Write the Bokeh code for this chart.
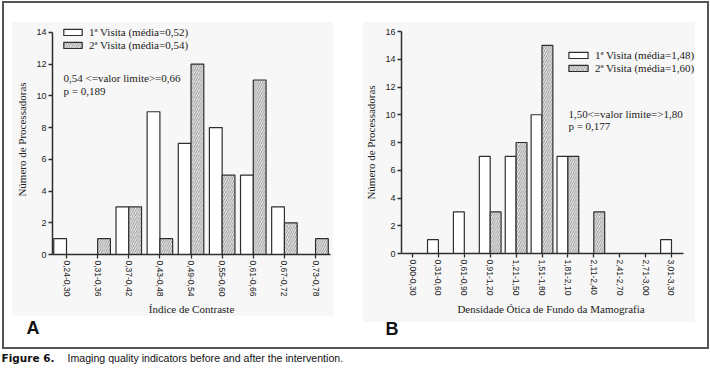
from bokeh.plotting import figure
from bokeh.models import (FixedTicker, SingleIntervalTicker, Legend, LegendItem, Label)
from bokeh.layouts import row, column
from bokeh.embed import file_html
from bokeh.resources import INLINE

# ---------------- data ----------------
cats_a = ["0,24-0,30", "0,31-0,36", "0,37-0,42", "0,43-0,48", "0,49-0,54",
          "0,55-0,60", "0,61-0,66", "0,67-0,72", "0,73-0,78"]
visit1_a = [1, 0, 3, 9, 7, 8, 5, 3, 0]
visit2_a = [0, 1, 3, 1, 12, 5, 11, 2, 1]
legend_a = ["1ª Visita (média=0,52)", "2ª Visita (média=0,54)"]
note_a = ["0,54 <=valor limite>=0,66", "p = 0,189"]
xlabel_a = "Índice de Contraste"

cats_b = ["0,00-0,30", "0,31-0,60", "0,61-0,90", "0,91-1,20", "1,21-1,50", "1,51-1,80",
          "1,81-2,10", "2,11-2,40", "2,41-2,70", "2,71-3,00", "3,01-3,30"]
visit1_b = [0, 1, 3, 7, 7, 10, 7, 0, 0, 0, 1]
visit2_b = [0, 0, 0, 3, 8, 15, 7, 3, 0, 0, 0]
legend_b = ["1ª Visita (média=1,48)", "2ª Visita (média=1,60)"]
note_b = ["1,50<=valor limite=>1,80", "p = 0,177"]
xlabel_b = "Densidade Ótica de Fundo da Mamografia"

ylabel = "Número de Processadoras"
panel_letters = ["A", "B"]
caption_bold = "Figure 6."
caption_text = "Imaging quality indicators before and after the intervention."

INK = "#2e2e2e"
FRAME = "#555555"


def make_panel(cats, v1, v2, labels, notes, ymax, xlabel, g):
    xs = list(range(len(cats)))
    p = figure(width=g["w"], height=318, x_range=g["xr"], y_range=g["yr"],
               output_backend="svg", toolbar_location=None,
               min_border_left=g["ml"], min_border_right=g["mr"],
               min_border_top=g["mt"], min_border_bottom=g["mb"],
               border_fill_alpha=0, background_fill_alpha=0,
               outline_line_color=None,
               styles={"background": "linear-gradient(#f7f7f7, #f7f7f7) %dpx %dpx / %dpx %dpx no-repeat" % g["bg"],
                       "box-shadow": g["shadow"]})
    p.xgrid.visible = False
    p.ygrid.visible = False
    w = g["bw"]
    r1 = p.vbar(x=[x - w / 2 for x in xs], top=v1, width=w,
                fill_color="white", line_color=INK, line_width=1.2)
    r2 = p.vbar(x=[x + w / 2 for x in xs], top=v2, width=w,
                fill_color="#ececec", line_color=INK, line_width=1.2,
                hatch_pattern="right_diagonal_line", hatch_color="#6a6a6a",
                hatch_scale=4.5, hatch_weight=0.7)

    p.xaxis.ticker = FixedTicker(ticks=xs)
    p.xaxis.major_label_overrides = {i: c for i, c in enumerate(cats)}
    p.xaxis.major_label_orientation = "vertical"
    p.xaxis.bounds = g["xb"]
    p.yaxis.ticker = SingleIntervalTicker(interval=2, num_minor_ticks=0)
    p.yaxis.bounds = (0, ymax)
    for ax in (p.xaxis[0], p.yaxis[0]):
        ax.axis_line_color = INK
        ax.axis_line_width = 1.5
        ax.major_tick_line_color = INK
        ax.major_tick_line_width = 1.3
        ax.major_tick_in = 0
        ax.major_tick_out = 4
        ax.minor_tick_in = 0
        ax.minor_tick_out = 0
        ax.major_label_text_font = "Liberation Sans"
        ax.major_label_text_color = "#222222"
        ax.major_label_standoff = 2
        ax.axis_label_text_font = "Liberation Serif"
        ax.axis_label_text_font_size = "11px"
        ax.axis_label_text_font_style = "normal"
        ax.axis_label_text_color = "#222222"
    p.xaxis.major_label_text_font_size = "8.5px"
    p.yaxis.major_label_text_font_size = "9px"
    p.xaxis.axis_label = xlabel
    p.yaxis.axis_label = ylabel
    p.xaxis.axis_label_standoff = g["xls"]
    p.yaxis.axis_label_standoff = 5

    legend = Legend(items=[LegendItem(label=labels[0], renderers=[r1]),
                           LegendItem(label=labels[1], renderers=[r2])],
                    location=g["leg"], orientation="vertical", padding=0, margin=0,
                    spacing=1, glyph_width=g["gw"], glyph_height=8, label_standoff=5,
                    label_height=10, label_text_font="Liberation Serif",
                    label_text_font_size="11px", label_text_color="#222222",
                    border_line_color=None, background_fill_alpha=0)
    p.add_layout(legend)

    for txt, yv in zip(notes, g["ny"]):
        p.add_layout(Label(x=g["nx"], y=yv, text=txt, text_font="Liberation Serif",
                           text_font_size="11px", text_baseline="middle",
                           text_color="#222222"))
    return p


geo_a = dict(w=356, xr=(-0.45, 8.48), xb=(-0.45, 8.48), yr=(0, 14.5),
             ml=52, mr=26, mt=24, mb=62, bw=0.41, gw=23, xls=4,
             leg=(9, 203), nx=-0.097, ny=[11.125, 10.31],
             bg=(12, 22, 321, 294),
             shadow="inset 2px 1px 0 #ffffff, inset 4px 3px 0 %s" % FRAME)
geo_b = dict(w=354, xr=(-0.425, 11.12), xb=(-0.425, 10.46), yr=(0, 16),
             ml=45, mr=10, mt=31, mb=60, bw=0.42, gw=24, xls=5,
             leg=(165, 179), nx=6.02, ny=[10.08, 9.16],
             bg=(7, 22, 332, 300),
             shadow="inset -1px 1px 0 #ffffff, inset -3px 3px 0 %s" % FRAME)

pa = make_panel(cats_a, visit1_a, visit2_a, legend_a, note_a, 14, xlabel_a, geo_a)
pb = make_panel(cats_b, visit1_b, visit2_b, legend_b, note_b, 16, xlabel_b, geo_b)

# bottom strip: panel letters, lower part of the frame, caption
frame_css = ", ".join([
    "linear-gradient(%s, %s) 2px 0px / 2px 31px no-repeat" % (FRAME, FRAME),
    "linear-gradient(%s, %s) 707px 0px / 2px 31px no-repeat" % (FRAME, FRAME),
    "linear-gradient(%s, %s) 2px 29px / 707px 2px no-repeat" % (FRAME, FRAME),
    "linear-gradient(#f7f7f7, #f7f7f7) 363px 0px / 332px 4px no-repeat",
])
bottom = figure(width=710, height=50, x_range=(0, 710), y_range=(0, 50),
                output_backend="svg", toolbar_location=None, min_border=0,
                x_axis_location=None, y_axis_location=None, outline_line_color=None,
                border_fill_alpha=0, background_fill_alpha=0,
                styles={"background": frame_css})
bottom.xgrid.visible = False
bottom.ygrid.visible = False
for letter, lx, ly in zip(panel_letters, [26, 385], [41, 40]):
    bottom.add_layout(Label(x=lx, y=ly, text=letter, text_font="Liberation Sans",
                            text_font_style="bold", text_font_size="18px",
                            text_baseline="middle", text_color="#111111"))
bottom.add_layout(Label(x=1, y=11, text=caption_bold, text_font="DejaVu Sans",
                        text_font_style="bold", text_font_size="10.5px",
                        text_baseline="middle", text_color="#111111"))
bottom.add_layout(Label(x=67, y=11, text=caption_text, text_font="Liberation Sans",
                        text_font_size="10.6px", text_baseline="middle",
                        text_color="#111111"))

layout = column(row(column(pa), column(pb)), bottom)

open("out.html", "w").write(file_html(layout, INLINE))
